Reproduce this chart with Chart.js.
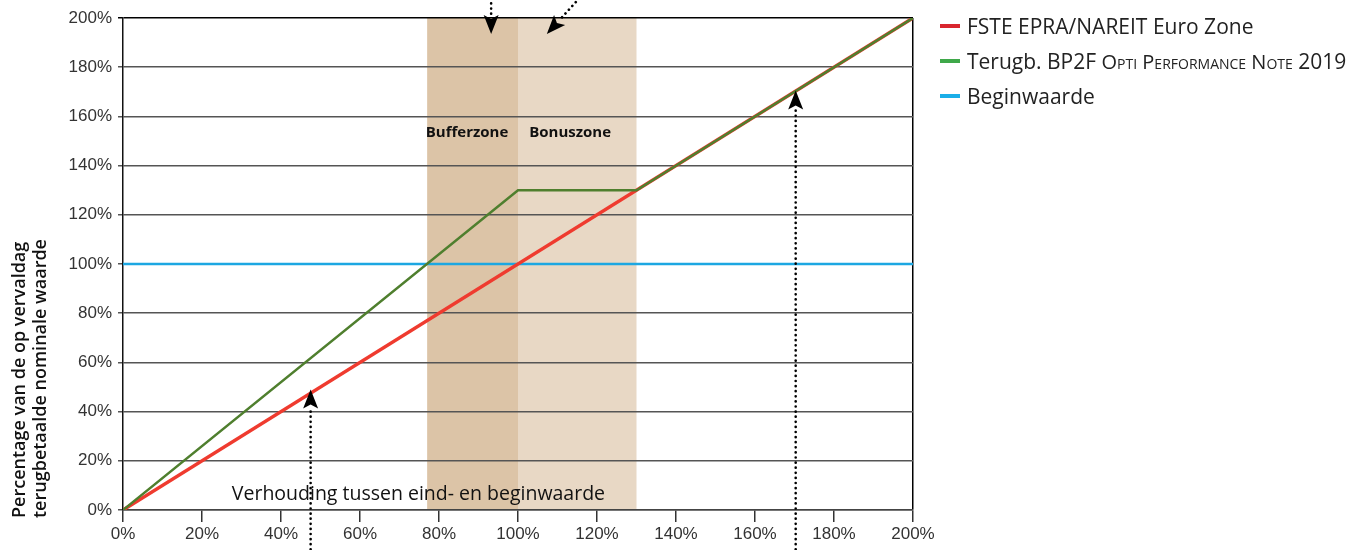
<!DOCTYPE html>
<html>
<head>
<meta charset="utf-8">
<script src="https://cdn.jsdelivr.net/npm/chart.js@4/dist/chart.umd.min.js"></script>
<style>
  body { margin: 0; background: #fff; }
  #wrap { position: relative; width: 1349px; height: 550px; }
  #legend { position: absolute; left: 940px; top: 9px; font-family: "Open Sans", sans-serif; font-size: 21px; color: #222; }
  #legend div { height: 35px; line-height: 34px; white-space: nowrap; }
  #legend span.sw { display: inline-block; width: 20px; height: 4px; vertical-align: middle; margin-right: 7px; position: relative; top: -2px; }
  .sc { font-variant: small-caps; font-size: 20px; }
</style>
</head>
<body>
<div id="wrap">
  <canvas id="chart" width="1349" height="550"></canvas>
  <div id="legend">
    <div><span class="sw" style="background:#d9262e"></span>FSTE EPRA/NAREIT Euro Zone</div>
    <div><span class="sw" style="background:#3fa84a"></span>Terugb. BP2F <span class="sc">Opti Performance Note</span> 2019</div>
    <div><span class="sw" style="background:#1aaee8"></span>Beginwaarde</div>
  </div>
</div>
<script>
// ratio end/begin value (%) and repaid share of nominal (%)
const indexX = [0, 200];
const indexY = [0, 200];
const noteX = [0, 100, 130, 200];
const noteY = [0, 130, 130, 200];
const startX = [0, 200];
const startY = [100, 100];

// zones on the x axis
const zoneNames = ["Bufferzone", "Bonuszone"];
const zoneFrom = [77, 100];
const zoneTo = [100, 130];
const zoneLabelX = [87.1, 113.2];
const zoneLabelY = [153.5, 153.5];

// dotted arrows: [fromX, fromY, toX, toY]
const arrows = [
    [47.5, -16, 47.5, 49],
    [170.3, -16, 170.3, 170.5],
    [93.2, 208, 93.2, 193.5],
    [115.5, 208, 107.3, 193.5],
];

const yTitle = ["Percentage van de op vervaldag", "terugbetaalde nominale waarde"];

const toPoints = (xs, ys) => xs.map((x, i) => ({ x: x, y: ys[i] }));

const annotations = {
    id: "annotations",
    beforeDraw(chart) {
        const { ctx, chartArea, scales } = chart;
        const colors = ["#dcc4a7", "#e8d8c5"];
        ctx.save();
        zoneNames.forEach((name, i) => {
            const x1 = scales.x.getPixelForValue(zoneFrom[i]);
            const x2 = scales.x.getPixelForValue(zoneTo[i]);
            ctx.fillStyle = colors[i];
            ctx.fillRect(x1, chartArea.top, x2 - x1, chartArea.bottom - chartArea.top);
        });
        ctx.restore();
    },
    afterDraw(chart) {
        const { ctx, scales, chartArea } = chart;
        ctx.save();
        ctx.fillStyle = "#111";
        ctx.textAlign = "center";
        ctx.textBaseline = "middle";
        ctx.font = "bold 15px 'Open Sans'";
        zoneNames.forEach((name, i) => {
            ctx.fillText(name, scales.x.getPixelForValue(zoneLabelX[i]), scales.y.getPixelForValue(zoneLabelY[i]));
        });
        ctx.font = "19.5px 'Open Sans'";
        ctx.fillText("Verhouding tussen eind- en beginwaarde", scales.x.getPixelForValue(74.8), scales.y.getPixelForValue(6.5));

        // y axis title, two rotated lines set from the bottom
        ctx.save();
        ctx.translate(0, chartArea.bottom + 8);
        ctx.rotate(-Math.PI / 2);
        ctx.textAlign = "left";
        ctx.font = "600 18px 'Open Sans'";
        ctx.fillText(yTitle[0], 0, 20);
        ctx.fillText(yTitle[1], 0, 41);
        ctx.restore();

        arrows.forEach((a) => {
            const x1 = scales.x.getPixelForValue(a[0]);
            const y1 = scales.y.getPixelForValue(a[1]);
            const x2 = scales.x.getPixelForValue(a[2]);
            const y2 = scales.y.getPixelForValue(a[3]);
            const ang = Math.atan2(y2 - y1, x2 - x1);
            const head = 19;
            const bx = x2 - Math.cos(ang) * head;
            const by = y2 - Math.sin(ang) * head;
            ctx.strokeStyle = "#000";
            ctx.lineWidth = 2.6;
            ctx.lineCap = "round";
            ctx.setLineDash([0.1, 5]);
            ctx.beginPath();
            ctx.moveTo(x1, y1);
            ctx.lineTo(bx, by);
            ctx.stroke();
            ctx.setLineDash([]);
            ctx.fillStyle = "#000";
            ctx.beginPath();
            ctx.moveTo(x2, y2);
            ctx.lineTo(bx + Math.sin(ang) * 7.5, by - Math.cos(ang) * 7.5);
            ctx.lineTo(x2 - Math.cos(ang) * (head - 4), y2 - Math.sin(ang) * (head - 4));
            ctx.lineTo(bx - Math.sin(ang) * 7.5, by + Math.cos(ang) * 7.5);
            ctx.closePath();
            ctx.fill();
        });
        ctx.restore();
    },
};

new Chart(document.getElementById("chart"), {
    type: "line",
    data: {
        datasets: [
            {
                label: "Terugb. BP2F Opti Performance Note 2019",
                data: toPoints(noteX, noteY),
                borderColor: "#4f7f2e",
                borderWidth: 2.5,
                pointRadius: 0,
                order: 0,
            },
            {
                label: "FSTE EPRA/NAREIT Euro Zone",
                data: toPoints(indexX, indexY),
                borderColor: "#ef3b2f",
                borderWidth: 3.5,
                pointRadius: 0,
                order: 1,
            },
            {
                label: "Beginwaarde",
                data: toPoints(startX, startY),
                borderColor: "#1ca7e2",
                borderWidth: 2.5,
                pointRadius: 0,
                order: 2,
            },
        ],
    },
    options: {
        responsive: false,
        animation: false,
        devicePixelRatio: 1,
        layout: { padding: { top: 18, right: 436, left: 0, bottom: 0 } },
        plugins: { legend: { display: false }, tooltip: { enabled: false } },
        scales: {
            x: {
                type: "linear",
                min: 0,
                max: 200,
                afterFit: (scale) => { scale.height = 40; },
                ticks: {
                    stepSize: 20,
                    callback: (v) => v + "%",
                    color: "#333",
                    font: { family: "Liberation Sans", size: 17 },
                    padding: 2,
                    maxRotation: 0,
                },
                grid: {
                    color: (c) => (c.index === 10 ? "#000" : "rgba(0,0,0,0)"),
                    lineWidth: 1.5,
                    tickColor: "#333",
                    tickLength: 12,
                },
                border: { color: "#444", width: 1.5 },
            },
            y: {
                min: 0,
                max: 200,
                afterFit: (scale) => { scale.width = 123; },
                ticks: {
                    stepSize: 20,
                    callback: (v) => v + "%",
                    color: "#333",
                    font: { family: "Liberation Sans", size: 17 },
                    padding: 6,
                },
                grid: {
                    color: (c) => (c.index === 10 ? "#000" : "#555"),
                    lineWidth: 1.5,
                    tickLength: 5,
                },
                border: { color: "#111", width: 1.5 },
            },
        },
    },
    plugins: [annotations],
});
</script>
</body>
</html>
